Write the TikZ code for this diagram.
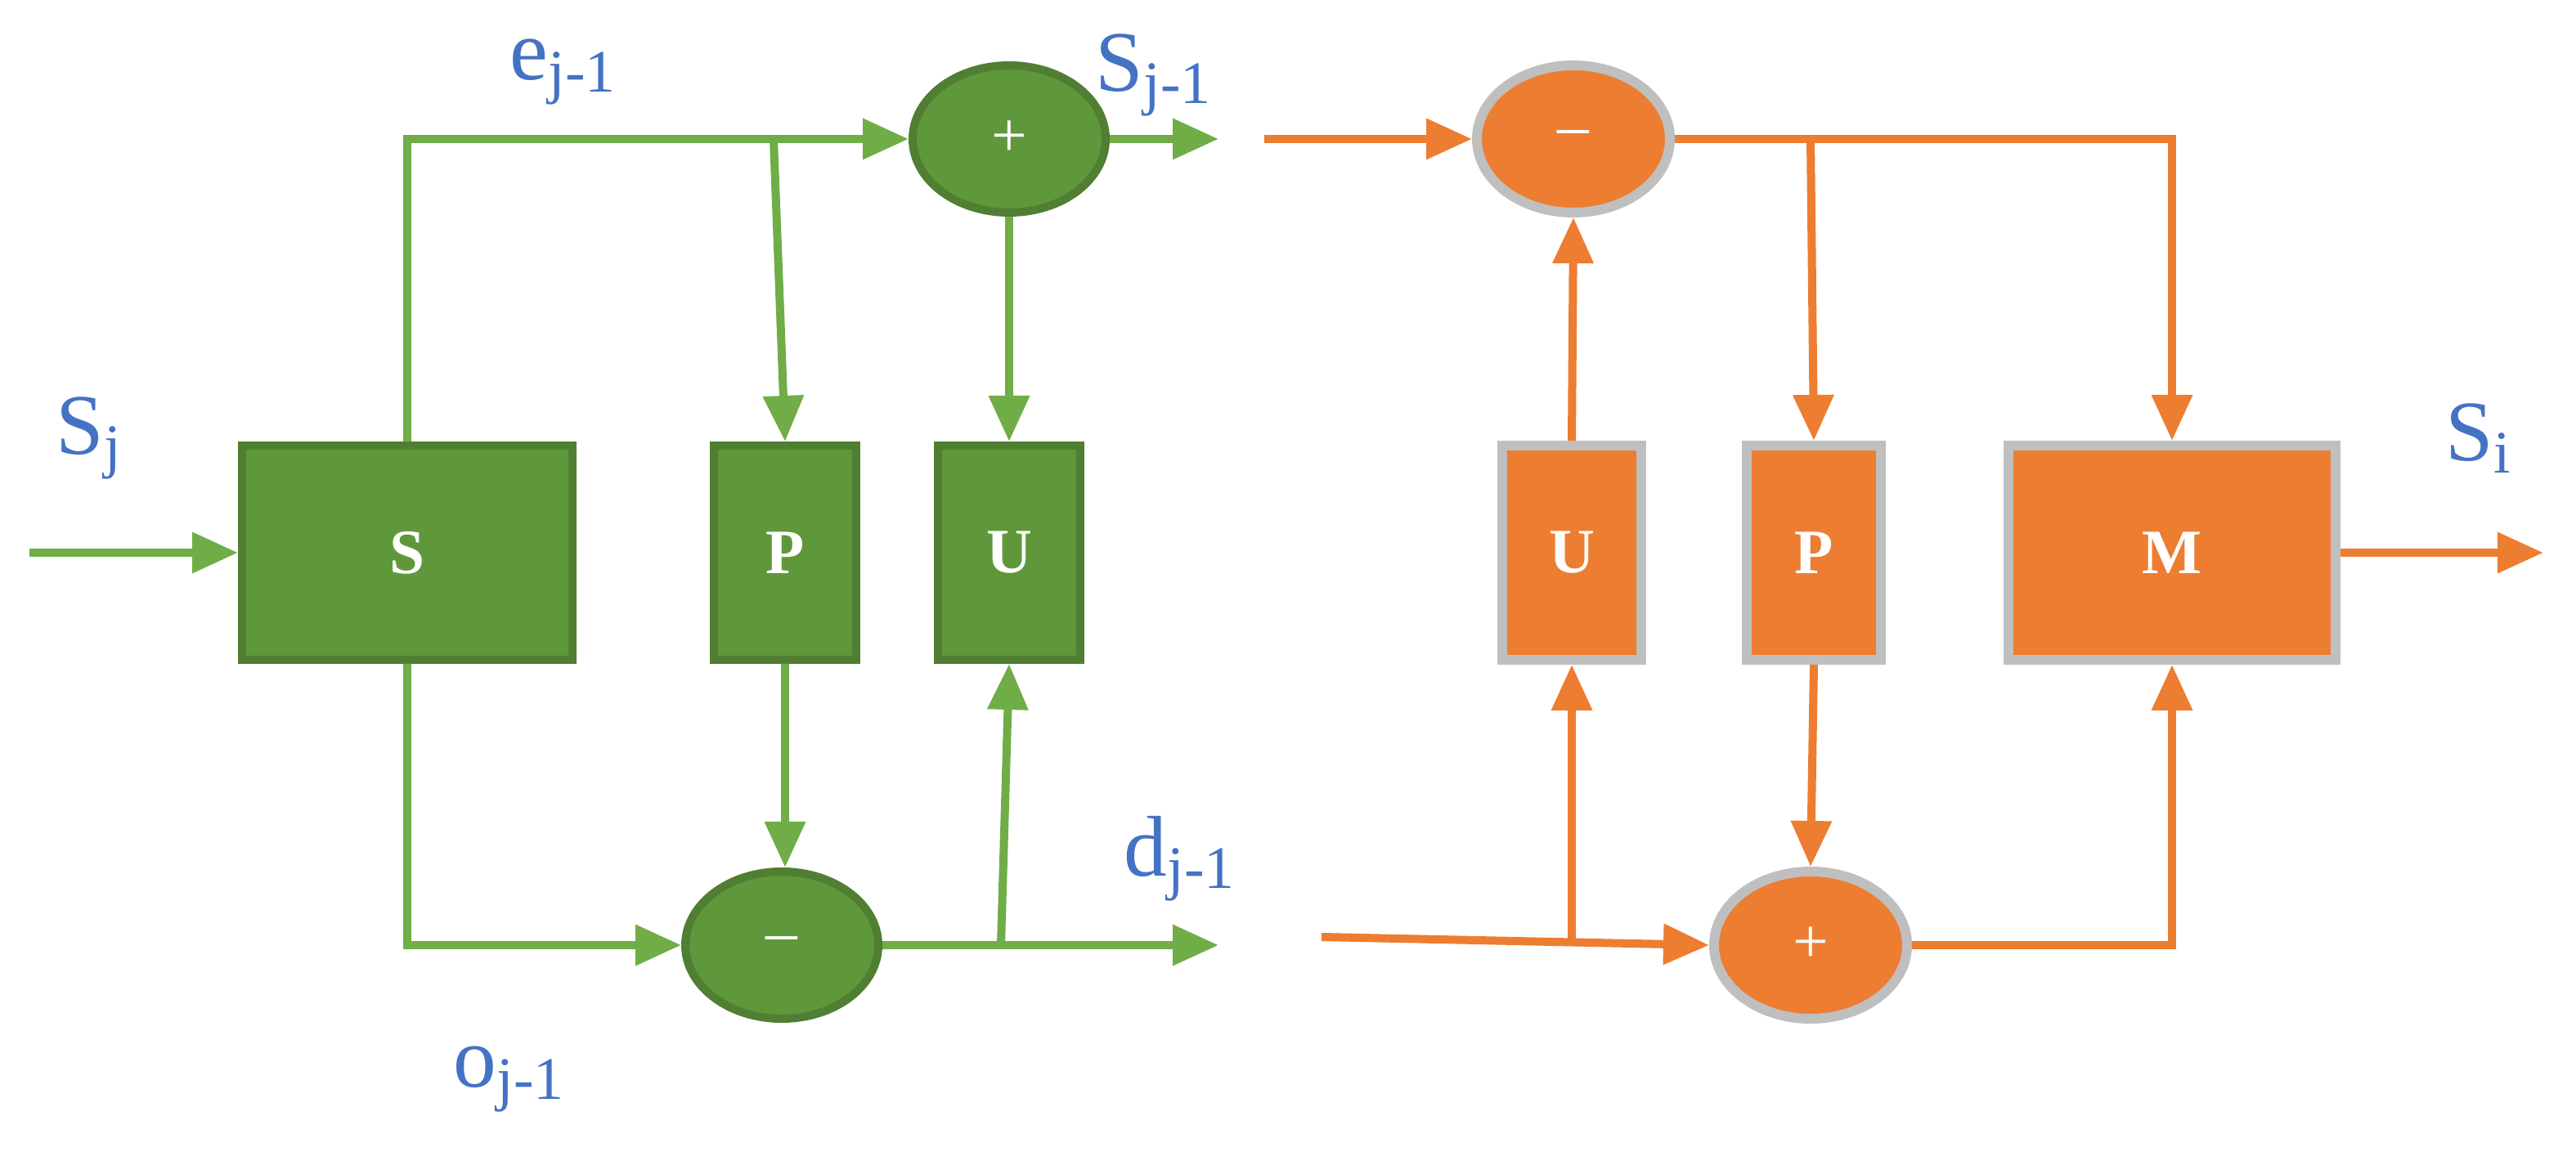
\documentclass[tikz,border=0pt]{standalone}
\usepackage{fontspec}
\setmainfont{Liberation Serif}
\usetikzlibrary{arrows.meta,shapes.geometric}
\definecolor{gl}{RGB}{112,173,71}
\definecolor{gf}{RGB}{94,152,58}
\definecolor{gb}{RGB}{80,126,50}
\definecolor{og}{RGB}{237,125,49}
\definecolor{gr}{RGB}{191,191,191}
\definecolor{lb}{RGB}{68,114,196}
\begin{document}
\begin{tikzpicture}[x=0.1mm,y=-0.1mm,
 gline/.style={draw=gl,line width=0.5mm},
 oline/.style={draw=og,line width=0.5mm},
 arr/.style={-{Triangle[length=2.8mm,width=2.4mm]}},
 gbox/.style={draw=gb,fill=gf,line width=0.5mm,text=white,font=\bfseries\fontsize{11}{11}\selectfont,inner sep=0},
 obox/.style={draw=gr,fill=og,line width=0.6mm,text=white,font=\bfseries\fontsize{11}{11}\selectfont,inner sep=0},
 gell/.style={ellipse,draw=gb,fill=gf,line width=0.5mm,minimum width=11.8mm,minimum height=9mm,text=white,font=\fontsize{11}{11}\selectfont},
 oell/.style={ellipse,draw=gr,fill=og,line width=0.6mm,minimum width=11.8mm,minimum height=9mm,text=white,font=\fontsize{11}{11}\selectfont},
 lab/.style={text=lb,font=\fontsize{15}{15}\selectfont}]
\useasboundingbox (0,0) rectangle (1575,704.5);
% green
\node[gbox,minimum width=20.2mm,minimum height=13.1mm] (S) at (249,338) {S};
\node[gbox,minimum width=8.7mm,minimum height=13.1mm] (P) at (480,338) {P};
\node[gbox,minimum width=8.7mm,minimum height=13.1mm] (U) at (617,338) {U};
\node[gell] (A) at (617,85) {+};
\node[gell] (D) at (478,578) {\raisebox{-1mm}{--}};
\coordinate (in) at (18,338);
\coordinate (ao) at (745,85);
\coordinate (do) at (745,578);
\coordinate (t1) at (249,85);
\coordinate (t2) at (473,85);
\coordinate (b1) at (249,578);
\coordinate (b2) at (612,578);
\draw[gline,arr] (in) -- (S.west);
\draw[gline,arr] (S.north) -- (t1) -- (A.west);
\draw[gline,arr] (t2) -- (P.north);
\draw[gline,arr] (A.east) -- (ao);
\draw[gline,arr] (A.south) -- (U.north);
\draw[gline,arr] (S.south) -- (b1) -- (D.west);
\draw[gline,arr] (P.south) -- (P.south|-D.north);
\draw[gline,arr] (D.east) -- (do);
\draw[gline,arr] (b2) -- (U.south);
% orange
\node[oell] (M1) at (962,85) {\raisebox{-1mm}{--}};
\node[obox,minimum width=8.5mm,minimum height=13.1mm] (U2) at (961,338) {U};
\node[obox,minimum width=8.2mm,minimum height=13.1mm] (P2) at (1109,338) {P};
\node[obox,minimum width=20mm,minimum height=13.1mm] (M) at (1328,338) {M};
\node[oell] (A2) at (1107,578) {+};
\coordinate (oi) at (773,85);
\coordinate (oi2) at (808,573);
\coordinate (r1) at (1328,85);
\coordinate (r2) at (1107,85);
\coordinate (q1) at (961,575);
\coordinate (q2) at (1328,578);
\coordinate (so) at (1555,338);
\draw[oline,arr] (oi) -- (M1.west);
\draw[oline,arr] (M1.east) -- (r1) -- (M.north);
\draw[oline,arr] (r2) -- (P2.north);
\draw[oline,arr] (U2.north) -- (M1.south);
\draw[oline,arr] (M.east) -- (so);
\draw[oline,arr] (oi2) -- (A2.west);
\draw[oline,arr] (q1) -- (U2.south);
\draw[oline,arr] (P2.south) -- (A2.north);
\draw[oline,arr] (A2.east) -- (q2) -- (M.south);
% labels
\node[lab] (l1) at (55,268) {S\textsubscript{j}};
\node[lab] (l2) at (345,44) {e\textsubscript{j-1}};
\node[lab] (l3) at (706,46) {S\textsubscript{j-1}};
\node[lab] (l4) at (722,525) {d\textsubscript{j-1}};
\node[lab] (l5) at (312,660) {o\textsubscript{j-1}};
\node[lab] (l6) at (1516,268) {S\textsubscript{i}};
\end{tikzpicture}
\end{document}
